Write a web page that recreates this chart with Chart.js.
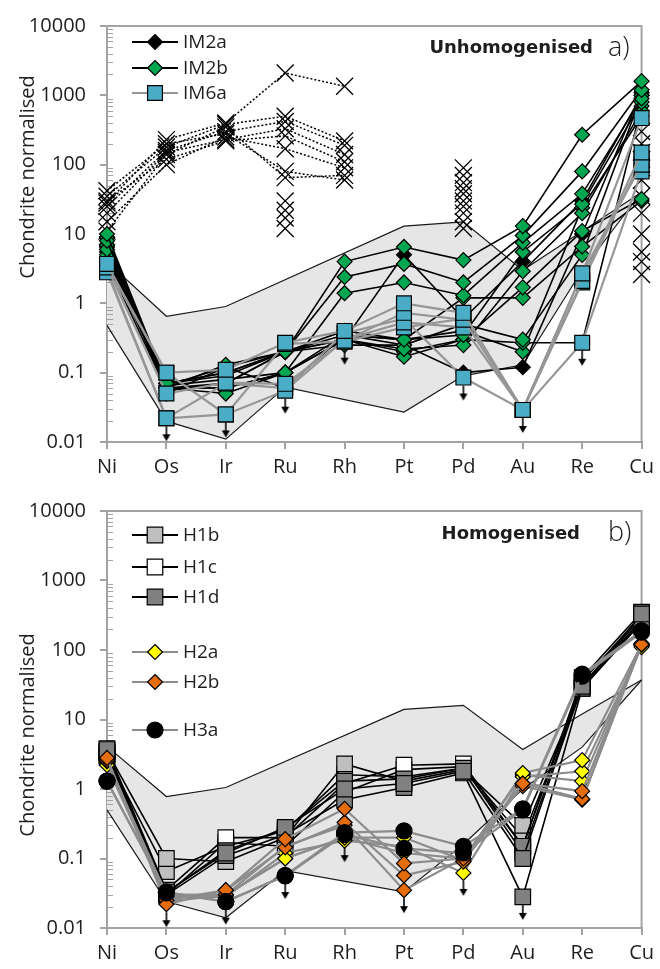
<!doctype html>
<html>
<head>
<title>Chondrite normalised</title>
<script src="https://cdn.jsdelivr.net/npm/chart.js@4/dist/chart.umd.min.js"></script>
<style>
body { margin: 0; background: #fff; }
#boxA { position: absolute; left: 0; top: 0; width: 660px; height: 484px; }
#boxB { position: absolute; left: 0; top: 485px; width: 660px; height: 484px; }
</style>
</head>
<body>
<div id="boxA"><canvas id="canvasA"></canvas></div>
<div id="boxB"><canvas id="canvasB"></canvas></div>
<script>
// categories + axis ticks
var elements = ['Ni', 'Os', 'Ir', 'Ru', 'Rh', 'Pt', 'Pd', 'Au', 'Re', 'Cu'];
var yTicks = [0.01, 0.1, 1, 10, 100, 1000, 10000];
var yTickLabels = ['0.01', '0.1', '1', '10', '100', '1000', '10000'];

// grey reference field (null = dotted span)
var envUpperA = [4, 0.65, 0.9, null, null, 13, 15, 3, 11, 40];
var envLowerA = [0.48, 0.02, 0.011, 0.062, null, 0.027, 0.09, 0.13, 3, 40];
var envUpperB = [4.1, 0.78, 1.05, null, null, 14, 16, 3.7, 12, 37];
var envLowerB = [0.5, 0.024, 0.014, 0.067, null, 0.033, 0.16, 1.0, 4, 37];

// a) literature data (crosses, dotted)
var xA1 = [28, 230, 400, 2100, 1350, null, 90, null, null, 300];
var xA2 = [35, 180, 380, 500, 220, null, 70, null, null, 200];
var xA3 = [25, 160, 300, 420, 190, null, 55, null, null, 150];
var xA4 = [20, 150, 230, 330, 140, null, 45, null, null, 60];
var xA5 = [30, 120, 220, 260, 110, null, 38, null, null, 35];
var xA6 = [15, 100, 250, 170, 90, null, 30, null, null, 10];
var xA7 = [11, 140, 350, 65, 70, null, 25, null, null, 5.5];
var xA8 = [42, 200, 280, 80, 60, null, 20, null, null, 2.6];
var xA9 = [null, null, null, 30, null, null, 15, null, null, 4];
var xA10 = [null, null, null, 22, null, null, 12, null, null, 20];
var xA11 = [null, null, null, 17, null, null, null, null, null, 90];
var xA12 = [null, null, null, 12, null, null, null, null, null, 120];

// a) IM2a
var im2a1 = [7, 0.05, 0.12, 0.06, 0.35, 0.25, 0.1, 0.12, 10, 1100];
var im2a2 = [9, 0.06, 0.07, 0.2, 0.3, 5, 0.6, 4, 30, 1000];
// a) IM2b
var im2b1 = [10, 0.07, 0.1, 0.2, 4, 6.5, 4.2, 13, 270, 1600];
var im2b2 = [8, 0.06, 0.13, 0.2, 2.4, 3.7, 2, 9.5, 80, 1200];
var im2b3 = [6, 0.065, 0.08, 0.1, 1.4, 2, 1.3, 7.5, 38, 900];
var im2b4 = [5, 0.06, 0.05, 0.1, 0.35, 0.3, 0.35, 5.5, 27, 800];
var im2b5 = [4.5, 0.07, 0.1, 0.2, 0.3, 0.22, 0.25, 2.9, 20, 600];
var im2b6 = [7, 0.06, 0.06, 0.1, 0.3, 0.17, 0.3, 1.7, 11, 32];
var im2b7 = [4, 0.055, 0.07, 0.2, 0.4, 0.3, 1.2, 1.2, 6.6, 30];
var im2b8 = [9, 0.065, 0.12, 0.2, 0.25, 0.25, 0.5, 0.3, 5, 1000];
var im2b9 = [5.5, 0.06, 0.06, 0.1, 0.3, 0.2, 0.3, 0.27, 0.27, 700];
var im2b10 = [6.5, 0.07, 0.09, 0.2, 0.35, 0.3, 0.4, 0.2, 24, 500];
// a) IM6a
var im6a1 = [3.7, 0.1, 0.11, 0.27, 0.4, 1.0, 0.73, 0.029, 2.7, 470];
var im6a2 = [3.3, 0.05, 0.072, 0.069, 0.29, 0.73, 0.58, 0.029, 2.1, 150];
var im6a3 = [2.8, 0.022, 0.025, 0.055, 0.3, 0.53, 0.45, 0.029, 2.7, 100];
var im6a4 = [3.0, 0.022, 0.07, 0.06, 0.37, 0.6, 0.085, 0.029, 0.27, 80];
var im6a5 = [3.5, 0.1, 0.025, 0.26, 0.28, 0.45, 0.6, 0.029, 2.0, 120];
// a) below detection limit
var limitsA = [null, 0.022, 0.025, 0.055, 0.28, null, 0.085, 0.029, 0.27, null];

// b) H1b / H1c / H1d
var h1b1 = [3.5, 0.1, 0.09, 0.2, 2.3, 1.3, 1.9, 0.3, 28, 280];
var h1b2 = [3.0, 0.065, 0.15, 0.25, 1.6, 1.5, 2.0, 0.2, 30, 300];
var h1c1 = [3.8, 0.035, 0.2, 0.2, 1.2, 2.2, 2.3, 0.15, 35, 320];
var h1c2 = [3.2, 0.03, 0.17, 0.15, 0.9, 1.9, 2.1, 0.12, 32, 260];
var h1d1 = [3.7, 0.033, 0.12, 0.28, 1.0, 1.2, 1.8, 0.1, 30, 330];
var h1d2 = [2.9, 0.03, 0.11, 0.22, 0.7, 1.05, 1.7, 0.028, 28, 250];
var h1d3 = [3.4, 0.032, 0.13, 0.26, 1.3, 1.4, 2.0, 0.15, 40, 350];
// b) H2a / H2b / H3a
var h2a1 = [2.5, 0.03, 0.03, 0.1, 0.2, 0.2, 0.094, 1.7, 2.6, 120];
var h2a2 = [2.2, 0.028, 0.028, 0.12, 0.18, 0.15, 0.062, 1.5, 1.8, 110];
var h2a3 = [2.6, 0.03, 0.03, 0.1, 0.2, 0.12, 0.1, 1.6, 1.3, 115];
var h2b1 = [2.8, 0.022, 0.035, 0.19, 0.52, 0.085, 0.1, 1.2, 0.93, 120];
var h2b2 = [2.6, 0.025, 0.035, 0.144, 0.33, 0.057, 0.09, 1.2, 0.72, 118];
var h2b3 = [2.7, 0.024, 0.03, 0.15, 0.3, 0.035, 0.1, 1.1, 0.7, 125];
var h3a1 = [1.3, 0.033, 0.024, 0.057, 0.235, 0.25, 0.15, 0.52, 45, 190];
var h3a2 = [1.3, 0.032, 0.024, 0.056, 0.22, 0.14, 0.12, 0.5, 42, 180];
var limitsB = [null, 0.022, 0.024, 0.056, 0.19, 0.035, 0.062, 0.028, null, null];

var AXIS = '#a3a3a3';
var INK = '#1e1e1e';
var FONT = "'Open Sans', sans-serif";

// marker / line styles
var stX = { borderColor: '#000', borderWidth: 1.5, borderDash: [2, 2], pointStyle: 'crossRot', pointRadius: 12, pointBorderColor: '#000', pointBackgroundColor: '#000', pointBorderWidth: 1.3 };
var stIM2a = { borderColor: '#000', borderWidth: 1.6, pointStyle: 'rectRot', pointRadius: 7.5, pointBackgroundColor: '#000', pointBorderColor: '#000', pointBorderWidth: 1.2 };
var stIM2b = { borderColor: '#000', borderWidth: 1.6, pointStyle: 'rectRot', pointRadius: 7.5, pointBackgroundColor: '#00a650', pointBorderColor: '#000', pointBorderWidth: 1.2 };
var stIM6a = { borderColor: '#969696', borderWidth: 2.2, pointStyle: 'rect', pointRadius: 10.5, pointBackgroundColor: '#4bacc6', pointBorderColor: '#000', pointBorderWidth: 1.2 };
var stH1b = { borderColor: '#000', borderWidth: 1.6, pointStyle: 'rect', pointRadius: 11, pointBackgroundColor: '#bfbfbf', pointBorderColor: '#000', pointBorderWidth: 1.2 };
var stH1c = { borderColor: '#000', borderWidth: 1.6, pointStyle: 'rect', pointRadius: 11, pointBackgroundColor: '#ffffff', pointBorderColor: '#000', pointBorderWidth: 1.2 };
var stH1d = { borderColor: '#000', borderWidth: 1.6, pointStyle: 'rect', pointRadius: 11, pointBackgroundColor: '#808080', pointBorderColor: '#000', pointBorderWidth: 1.2 };
var stH2a = { borderColor: '#8c8c8c', borderWidth: 2.2, pointStyle: 'rectRot', pointRadius: 7.5, pointBackgroundColor: '#ffff00', pointBorderColor: '#000', pointBorderWidth: 1.2 };
var stH2b = { borderColor: '#8c8c8c', borderWidth: 2.2, pointStyle: 'rectRot', pointRadius: 7.5, pointBackgroundColor: '#e46c0a', pointBorderColor: '#000', pointBorderWidth: 1.2 };
var stH3a = { borderColor: '#8c8c8c', borderWidth: 2.2, pointStyle: 'circle', pointRadius: 8, pointBackgroundColor: '#000', pointBorderColor: '#000', pointBorderWidth: 1.2 };

// little down arrow used as point style (drawn below the value)
var arrowImg = document.createElement('canvas');
arrowImg.width = 14; arrowImg.height = 50;
(function() {
    var c = arrowImg.getContext('2d');
    c.strokeStyle = '#000'; c.fillStyle = '#000'; c.lineWidth = 1.6;
    c.beginPath(); c.moveTo(7, 33); c.lineTo(7, 43); c.stroke();
    c.beginPath(); c.moveTo(3, 41); c.lineTo(11, 41); c.lineTo(7, 48); c.closePath(); c.fill();
})();

function line(label, data, st, order) {
    var ds = { label: label, data: data, order: order, fill: false, tension: 0, spanGaps: false, pointHoverRadius: st.pointRadius };
    for (var k in st) ds[k] = st[k];
    return ds;
}

function envelope(lower, upper) {
    var dotted = function(ctx) { return (ctx.p1DataIndex - ctx.p0DataIndex > 1) ? [2, 3] : undefined; };
    return [
        { label: 'field-low', data: lower, order: 200, spanGaps: true, pointRadius: 0, borderColor: '#1a1a1a', borderWidth: 1.2, fill: false, segment: { borderDash: dotted } },
        { label: 'field-high', data: upper, order: 199, spanGaps: true, pointRadius: 0, borderColor: '#1a1a1a', borderWidth: 1.2, backgroundColor: '#e6e6e6', fill: '-1', segment: { borderDash: dotted } }
    ];
}

function arrows(data) {
    return { label: 'limit', data: data, order: 0, showLine: false, pointStyle: arrowImg, pointRadius: 5, clip: false };
}

function markAt(ctx, st, x, y) {
    var r = st.pointRadius;
    ctx.save();
    ctx.fillStyle = st.pointBackgroundColor;
    ctx.strokeStyle = st.pointBorderColor;
    ctx.lineWidth = st.pointBorderWidth;
    ctx.beginPath();
    if (st.pointStyle === 'rectRot') {
        ctx.moveTo(x, y - r); ctx.lineTo(x + r, y); ctx.lineTo(x, y + r); ctx.lineTo(x - r, y); ctx.closePath();
    } else if (st.pointStyle === 'rect') {
        var h = r * Math.SQRT1_2;
        ctx.rect(x - h, y - h, 2 * h, 2 * h);
    } else {
        ctx.arc(x, y, r, 0, Math.PI * 2);
    }
    ctx.fill(); ctx.stroke();
    ctx.restore();
}

var framePlugin = {
    id: 'frame',
    beforeDatasetsDraw: function(chart) {
        var a = chart.chartArea, ctx = chart.ctx, ys = chart.scales.y;
        ctx.save();
        ctx.strokeStyle = AXIS;
        ctx.lineWidth = 2;
        ctx.beginPath();
        ctx.moveTo(a.left, a.top); ctx.lineTo(a.right, a.top); ctx.lineTo(a.right, a.bottom);
        ctx.stroke();
        // minor log ticks on the inside of the value axis
        ctx.lineWidth = 1;
        ctx.beginPath();
        for (var i = 0; i < yTicks.length - 1; i++) {
            for (var k = 2; k < 10; k++) {
                var py = Math.round(ys.getPixelForValue(yTicks[i] * k)) + 0.5;
                ctx.moveTo(a.left, py); ctx.lineTo(a.left + 6, py);
            }
        }
        ctx.stroke();
        ctx.restore();
    }
};

function notes(cfg) {
    return {
        id: 'notes',
        afterDraw: function(chart) {
            var ctx = chart.ctx;
            ctx.save();
            ctx.fillStyle = INK;
            // axis title
            ctx.save();
            ctx.translate(28, cfg.titleY);
            ctx.rotate(-Math.PI / 2);
            ctx.font = '20px ' + FONT;
            ctx.textAlign = 'center';
            ctx.textBaseline = 'middle';
            ctx.fillText('Chondrite normalised', 0, 0);
            ctx.restore();
            // panel caption
            ctx.font = 'bold 18px "DejaVu Sans"';
            ctx.textAlign = 'right';
            ctx.textBaseline = 'alphabetic';
            ctx.fillText(cfg.caption, cfg.captionRight, cfg.captionY);
            ctx.font = '300 27px ' + FONT;
            ctx.textAlign = 'left';
            ctx.fillText(cfg.tag, 608, cfg.tagY);
            // legend
            ctx.font = '19px ' + FONT;
            ctx.textBaseline = 'middle';
            cfg.legend.forEach(function(it) {
                ctx.strokeStyle = it.st.borderColor;
                ctx.lineWidth = 2;
                ctx.beginPath(); ctx.moveTo(132, it.y); ctx.lineTo(178, it.y); ctx.stroke();
                markAt(ctx, it.st, 155, it.y);
                ctx.fillStyle = INK;
                ctx.fillText(it.label, 183, it.y + 1);
            });
            ctx.restore();
        }
    };
}

function options(padTop, xHeight) {
    return {
        responsive: true,
        maintainAspectRatio: false,
        animation: false,
        layout: { padding: { top: padTop, right: 13, bottom: 0, left: 0 } },
        plugins: {
            legend: { display: false },
            tooltip: { enabled: false },
            filler: { drawTime: 'beforeDatasetsDraw' }
        },
        scales: {
            x: {
                type: 'category',
                offset: false,
                grid: { drawOnChartArea: false, drawTicks: true, tickLength: 7, color: AXIS, lineWidth: 2, offset: false },
                border: { color: AXIS, width: 2 },
                ticks: { font: { family: FONT, size: 20 }, color: INK, padding: 6, maxRotation: 0, autoSkip: false },
                afterFit: function(s) { s.height = xHeight; }
            },
            y: {
                type: 'logarithmic',
                min: 0.01,
                max: 10000,
                afterBuildTicks: function(s) { s.ticks = yTicks.map(function(v) { return { value: v }; }); },
                grid: { drawOnChartArea: false, drawTicks: true, tickLength: 7, color: AXIS, lineWidth: 2 },
                border: { color: AXIS, width: 2 },
                ticks: {
                    font: { family: FONT, size: 20 }, color: INK, padding: 14,
                    callback: function(v) { var i = yTicks.indexOf(v); return i < 0 ? '' : yTickLabels[i]; }
                },
                afterFit: function(s) { s.width = 107; }
            }
        }
    };
}

var dataA = {
    labels: elements,
    datasets: envelope(envLowerA, envUpperA).concat([
        line('x', xA1, stX, 90), line('x', xA2, stX, 90), line('x', xA3, stX, 90), line('x', xA4, stX, 90),
        line('x', xA5, stX, 90), line('x', xA6, stX, 90), line('x', xA7, stX, 90), line('x', xA8, stX, 90),
        line('x', xA9, stX, 90), line('x', xA10, stX, 90), line('x', xA11, stX, 90), line('x', xA12, stX, 90),
        line('IM2a', im2a1, stIM2a, 60), line('IM2a', im2a2, stIM2a, 60),
        line('IM2b', im2b1, stIM2b, 50), line('IM2b', im2b2, stIM2b, 50), line('IM2b', im2b3, stIM2b, 50),
        line('IM2b', im2b4, stIM2b, 50), line('IM2b', im2b5, stIM2b, 50), line('IM2b', im2b6, stIM2b, 50),
        line('IM2b', im2b7, stIM2b, 50), line('IM2b', im2b8, stIM2b, 50), line('IM2b', im2b9, stIM2b, 50),
        line('IM2b', im2b10, stIM2b, 50),
        line('IM6a', im6a1, stIM6a, 40), line('IM6a', im6a2, stIM6a, 40), line('IM6a', im6a3, stIM6a, 40),
        line('IM6a', im6a4, stIM6a, 40), line('IM6a', im6a5, stIM6a, 40),
        arrows(limitsA)
    ])
};

var dataB = {
    labels: elements,
    datasets: envelope(envLowerB, envUpperB).concat([
        line('H1b', h1b1, stH1b, 60), line('H1b', h1b2, stH1b, 60),
        line('H1c', h1c1, stH1c, 59), line('H1c', h1c2, stH1c, 59),
        line('H1d', h1d1, stH1d, 58), line('H1d', h1d2, stH1d, 58), line('H1d', h1d3, stH1d, 58),
        line('H2a', h2a1, stH2a, 40), line('H2a', h2a2, stH2a, 40), line('H2a', h2a3, stH2a, 40),
        line('H2b', h2b1, stH2b, 39), line('H2b', h2b2, stH2b, 39), line('H2b', h2b3, stH2b, 39),
        line('H3a', h3a1, stH3a, 30), line('H3a', h3a2, stH3a, 30),
        arrows(limitsB)
    ])
};

window.onload = function() {
    var ctxA = document.getElementById('canvasA').getContext('2d');
    window.chartA = new Chart(ctxA, {
        type: 'line',
        data: dataA,
        options: options(22, 42),
        plugins: [framePlugin, notes({
            titleY: 177, caption: 'Unhomogenised', captionRight: 593, captionY: 53, tag: 'a)', tagY: 56,
            legend: [
                { label: 'IM2a', st: stIM2a, y: 42 },
                { label: 'IM2b', st: stIM2b, y: 68 },
                { label: 'IM6a', st: stIM6a, y: 93 }
            ]
        })]
    });

    var ctxB = document.getElementById('canvasB').getContext('2d');
    window.chartB = new Chart(ctxB, {
        type: 'line',
        data: dataB,
        options: options(22.5, 41),
        plugins: [framePlugin, notes({
            titleY: 250, caption: 'Homogenised', captionRight: 580, captionY: 54, tag: 'b)', tagY: 56,
            legend: [
                { label: 'H1b', st: stH1b, y: 50 },
                { label: 'H1c', st: stH1c, y: 82 },
                { label: 'H1d', st: stH1d, y: 112 },
                { label: 'H2a', st: stH2a, y: 167 },
                { label: 'H2b', st: stH2b, y: 197 },
                { label: 'H3a', st: stH3a, y: 245 }
            ]
        })]
    });
};
</script>
</body>
</html>
